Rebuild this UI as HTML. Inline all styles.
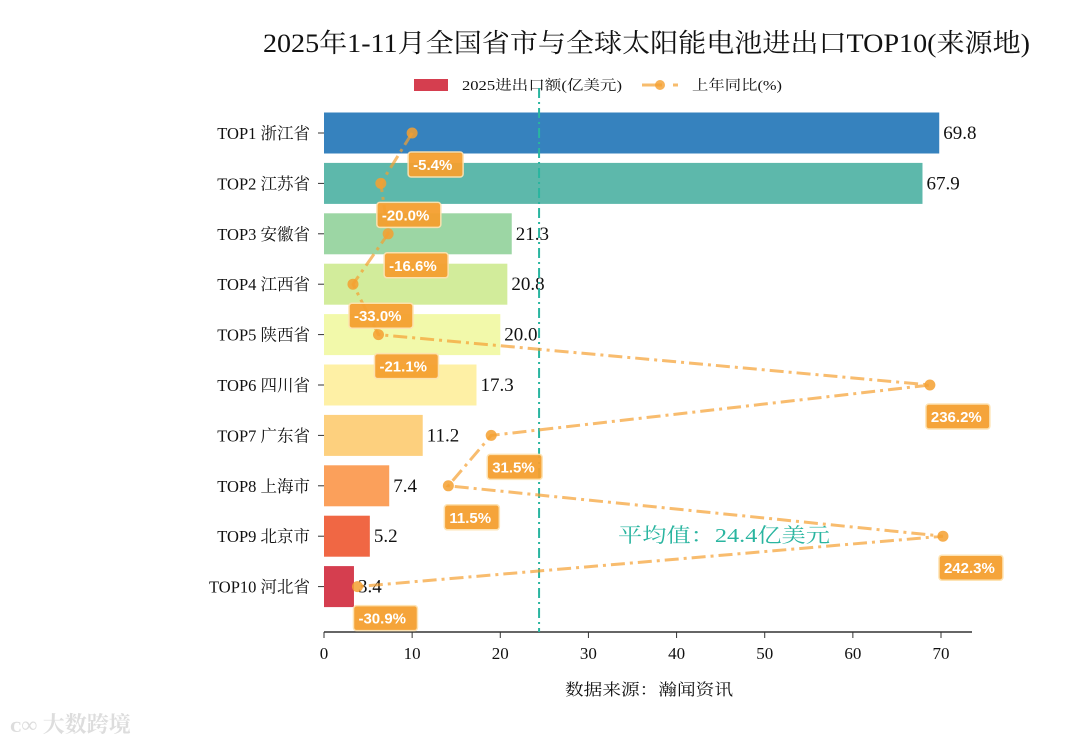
<!DOCTYPE html>
<html><head><meta charset="utf-8"><style>
body{margin:0;background:#fff;width:1080px;height:743px;overflow:hidden}
text{font-family:"Liberation Serif","Noto Serif CJK SC",serif}
.lbl{font-family:"Liberation Sans","Noto Sans CJK SC",sans-serif;font-weight:bold;fill:#fff;font-size:15px}
</style></head><body>
<svg id="c" width="1080" height="743">
<text x="263" y="52" font-size="26" textLength="767" lengthAdjust="spacingAndGlyphs" fill="#111">2025年1-11月全国省市与全球太阳能电池进出口TOP10(来源地)</text>
<g>
<rect x="414" y="79" width="34" height="12" fill="#d53e4f"/>
<text x="462" y="90" font-size="14" textLength="160" lengthAdjust="spacingAndGlyphs" fill="#111">2025进出口额(亿美元)</text>
<line x1="642" y1="85" x2="662" y2="85" stroke="#f5a030" stroke-width="3" opacity="0.7"/>
<circle cx="660" cy="85" r="5" fill="#f5a030" opacity="0.8"/>
<line x1="673" y1="85" x2="678" y2="85" stroke="#f5a030" stroke-width="3" opacity="0.7"/>
<text x="692" y="90" font-size="14" textLength="90" lengthAdjust="spacingAndGlyphs" fill="#111">上年同比(%)</text>
</g>
<g id="plot"></g>
<text x="565" y="695" font-size="16" textLength="168" lengthAdjust="spacingAndGlyphs" fill="#111">数据来源：瀚闻资讯</text>
<text x="10" y="732" font-size="22" font-weight="bold" fill="#ddd" font-family="Liberation Sans,Noto Sans CJK SC,sans-serif">ᴄ∞ 大数跨境</text>
</svg>
<script>
const categories=["TOP1 浙江省","TOP2 江苏省","TOP3 安徽省","TOP4 江西省","TOP5 陕西省","TOP6 四川省","TOP7 广东省","TOP8 上海市","TOP9 北京市","TOP10 河北省"];
const values=[69.8,67.9,21.3,20.8,20.0,17.3,11.2,7.4,5.2,3.4];
const yoy=[-5.4,-20.0,-16.6,-33.0,-21.1,236.2,31.5,11.5,242.3,-30.9];
const xTicks=[0,10,20,30,40,50,60,70];
const avgValue=24.4;
const colors=["#3682be","#5db8ab","#9cd6a4","#d2ec9b","#f2f9aa","#fef0a5","#fdd07e","#fba05b","#f06744","#d53e4f"];
const NS="http://www.w3.org/2000/svg";
const g=document.getElementById('plot');
const x=v=>324+v*(617/70);
const x2=v=>423.7+v*2.143;
const y=i=>133+i*50.4;
function mk(t,a,p){const e=document.createElementNS(NS,t);for(const k in a)e.setAttribute(k,a[k]);(p||g).appendChild(e);return e;}
categories.forEach((c,i)=>{
 const r=mk('rect',{x:x(0),y:y(i)-20.5,width:x(values[i])-x(0),height:41,fill:colors[i]});
 
 
 const t=mk('text',{x:x(values[i])+4,y:y(i)+6,'font-size':19,fill:'#111'});t.textContent=values[i].toFixed(1);
 
 
 const l=mk('text',{x:310,y:y(i)+6,'font-size':16.5,'text-anchor':'end',fill:'#111'});l.textContent=c;
 
 
 mk('line',{x1:318,x2:324,y1:y(i),y2:y(i),stroke:'#333'});
});
mk('line',{x1:324,x2:972,y1:632,y2:632,stroke:'#333','stroke-width':1.5});
xTicks.forEach(v=>{mk('line',{x1:x(v),x2:x(v),y1:632,y2:638,stroke:'#333'});
 const t=mk('text',{x:x(v),y:659,'font-size':17,'text-anchor':'middle',fill:'#111'});t.textContent=v;
 
 });
const av=mk('line',{x1:x(avgValue),x2:x(avgValue),y1:88,y2:632,stroke:'#2ab5a0','stroke-width':2,'stroke-dasharray':'10,4,2,4'});


const at=mk('text',{x:618,y:542,'font-size':20,textLength:212,lengthAdjust:'spacingAndGlyphs',fill:'#2ab5a0'});at.textContent='平均值：'+avgValue+'亿美元';


const pts=yoy.map((v,i)=>x2(v)+','+y(i)).join(' ');
const pl=mk('polyline',{points:pts,fill:'none',stroke:'#f5a030','stroke-width':3,opacity:0.7,'stroke-dasharray':'14,5,3,5'});


yoy.forEach((v,i)=>{
 const c=mk('circle',{cx:x2(v),cy:y(i),r:5.5,fill:'#f5a030',opacity:0.85});
 
 
 const s=v.toFixed(1)+'%';const w=s.length*9+10;
 mk('rect',{x:x2(v)-4,y:y(i)+19,width:w,height:25,rx:3,fill:'#f5a030',stroke:'#fde2b0','stroke-width':1.5,opacity:0.95});
 const t=mk('text',{x:x2(v)+1,y:y(i)+37,class:'lbl'});t.textContent=s;
 
 
});
</script>
</body></html>
